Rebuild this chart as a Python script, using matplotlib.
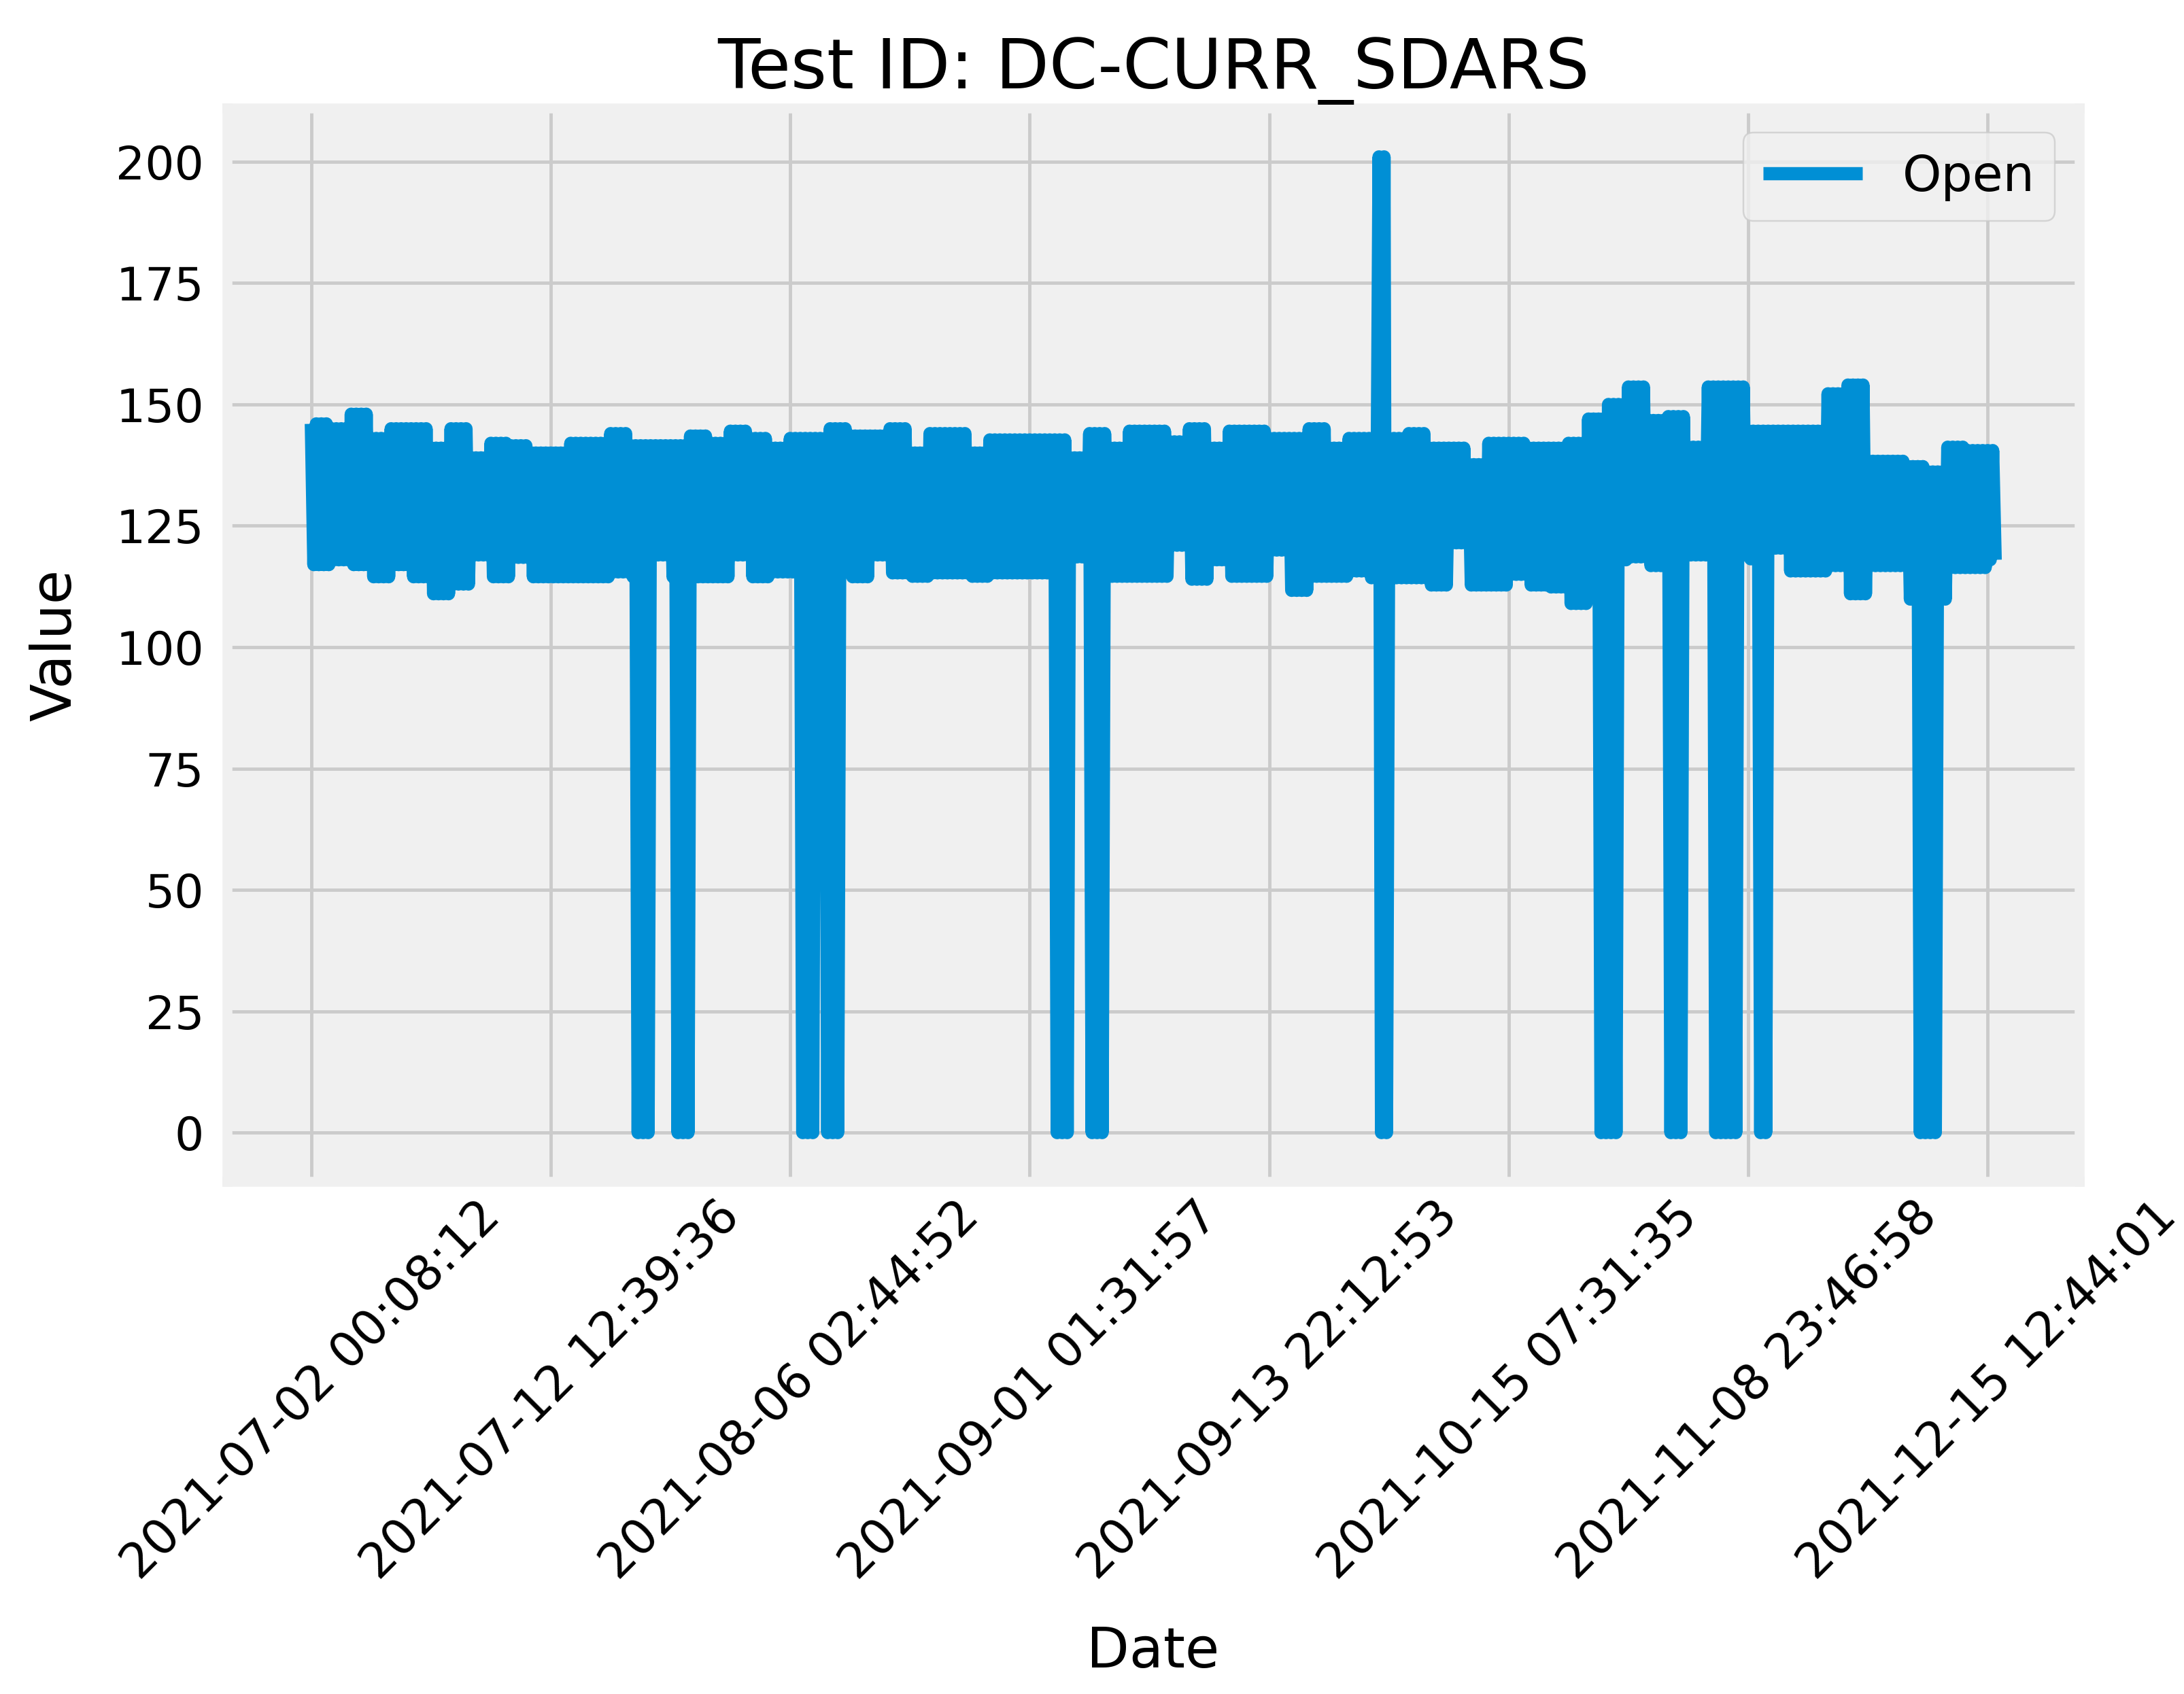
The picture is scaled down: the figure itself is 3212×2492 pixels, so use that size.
import matplotlib
matplotlib.use("Agg")
import matplotlib.pyplot as plt

plt.style.use("fivethirtyeight")
plt.rcParams["figure.facecolor"] = "white"
plt.rcParams["savefig.facecolor"] = "white"
plt.rcParams["path.simplify"] = False  # 密集锯齿线不要被简化

# 数据：波动带的上下包络（每个读数对应一小段）
upper = [146, 145, 148, 143, 145, 145, 141, 145, 139, 142, 141.5, 140, 140, 142, 142,
         144, 141.5, 141.5, 141.5, 143.5, 142, 144.5, 143, 141, 143, 143, 145, 143.5, 143.5,
         145, 140, 144, 144, 140, 142.7, 142.7, 142.7, 142.7, 139, 144, 141, 144.5, 144.5,
         142.3, 145, 141, 144.5, 144.5, 143, 143, 145, 141, 143, 143, 143, 144, 141, 141,
         137.6, 142, 142, 141, 141,
         142, 147, 150, 153.6, 146.7, 147.5, 141.2, 153.6, 153.6, 144.5, 144.5, 144.5, 144.5,
         152.2, 154, 138.3, 138.3, 137.2, 136.1, 141.2, 140.5, 140.5]
lower = [117, 118, 117, 114.5, 117, 114.5, 111, 113, 119, 114.5, 118.5, 114.5, 114.5, 114.5,
         114.5, 115.5, 114.5, 119, 114.5, 114.5, 114.5, 119, 114.5, 115.5, 115.5, 115.5, 115.5,
         114.5, 119,
         115.3, 114.6, 115.3, 115.3, 114.6, 115.3, 115.3, 115.3, 115.3, 118.6, 114.6, 114.6,
         114.6, 114.6, 121, 114, 118, 114.6, 114.6, 120, 111.7, 114.6, 114.6, 115.7, 114.3,
         114.3, 114.3, 112.8, 121.5, 112.8, 112.8, 115, 112.8, 112.4,
         109, 118, 118, 118.6, 116.8, 119.7, 119, 119, 119, 118.2, 120.4, 115.7, 115.7, 116.8,
         111, 116.8, 116.8, 109.9, 109.9, 116.4, 116.4, 118]
cycles_per_reading = 4
n_points = 676

# 掉到 0 的位置（采样序号中心）和 0 点个数
drop_centers = [133, 150, 200, 210, 301, 315, 521, 547, 567, 582, 649]
drop_counts = [3, 3, 3, 3, 3, 3, 4, 3, 5, 2, 4]
# 尖峰：0 与 201 交替
spike_zero = [429, 431]
spike_top = [428, 430]
spike_value = 201

tick_step = 96
tick_labels = ["2021-07-02 00:08:12", "2021-07-12 12:39:36", "2021-08-06 02:44:52",
               "2021-09-01 01:31:57", "2021-09-13 22:12:53", "2021-10-15 07:31:35",
               "2021-11-08 23:46:58", "2021-12-15 12:44:01"]

values = []
for u, l in zip(upper, lower):
    values += [u, l] * cycles_per_reading
values = values[:n_points]
for c, n in zip(drop_centers, drop_counts):
    start = c - (n - 1)
    if start % 2 == 0:
        start -= 1
    for i in range(start, start + 2 * n, 2):
        values[i] = 0
for i in spike_zero:
    values[i] = 0
for i in spike_top:
    values[i] = spike_value

dpi = 350
fig = plt.figure(figsize=(3212 / dpi, 2492 / dpi), dpi=dpi)
ax = fig.add_axes([0.1040, 0.3026, 0.9521 - 0.1040, 0.9362 - 0.3026])

ax.plot(range(len(values)), values, label="Open")
ax.set_xticks(range(0, tick_step * len(tick_labels), tick_step))
ax.set_xticklabels(tick_labels, rotation=45)
ax.tick_params(axis="x", labelsize=14.6)
ax.tick_params(axis="y", pad=7)
ax.set_title("Test ID: DC-CURR_SDARS", fontsize=21)
ax.set_xlabel("Date", labelpad=11)
ax.set_ylabel("Value", labelpad=10)
ax.legend(loc="upper right", fontsize=15)

fig.savefig("out.png", dpi=dpi)
